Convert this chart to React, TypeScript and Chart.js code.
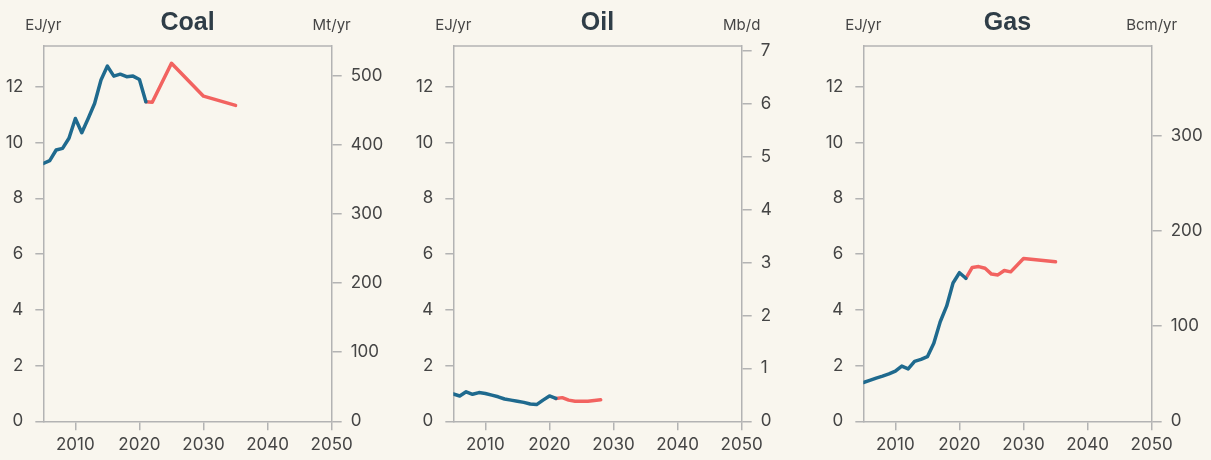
import React, { useEffect, useRef } from "react";
import { Chart, registerables } from "chart.js";

Chart.register(...registerables);

const BG = "#f9f6ee";
const BLUE = "#1f6a8e";
const RED = "#f26360";
const AXIS = "#b3b3b3";
const TEXT = "#454545";
const TITLE = "#2f3d47";
const FONT = "Inter";

const xTicks = [2010, 2020, 2030, 2040, 2050];
const ejTicks = [0, 2, 4, 6, 8, 10, 12];
const EJ_MAX = 13.46;

// Coal
const coalHistYears = [2005, 2006, 2007, 2008, 2009, 2010, 2011, 2012, 2013, 2014, 2015, 2016, 2017, 2018, 2019, 2020, 2021];
const coalHistEJ = [9.25, 9.35, 9.73, 9.79, 10.15, 10.86, 10.35, 10.86, 11.4, 12.24, 12.74, 12.38, 12.45, 12.36, 12.38, 12.26, 11.46];
const coalProjYears = [2021, 2022, 2025, 2030, 2035];
const coalProjEJ = [11.46, 11.44, 12.84, 11.66, 11.33];
const coalRightTicks = [0, 100, 200, 300, 400, 500];
const coalRightMax = 542.9; // Mt/yr at top of the plot

// Oil
const oilHistYears = [2005, 2006, 2007, 2008, 2009, 2010, 2011, 2012, 2013, 2014, 2015, 2016, 2017, 2018, 2019, 2020, 2021];
const oilHistEJ = [0.98, 0.91, 1.06, 0.97, 1.03, 1.0, 0.94, 0.88, 0.8, 0.76, 0.72, 0.68, 0.62, 0.6, 0.76, 0.91, 0.82];
const oilProjYears = [2021, 2022, 2023, 2024, 2025, 2026, 2027, 2028];
const oilProjEJ = [0.82, 0.85, 0.76, 0.72, 0.72, 0.72, 0.75, 0.77];
const oilRightTicks = [0, 1, 2, 3, 4, 5, 6, 7];
const oilRightMax = 7.088; // Mb/d

// Gas
const gasHistYears = [2005, 2006, 2007, 2008, 2009, 2010, 2011, 2012, 2013, 2014, 2015, 2016, 2017, 2018, 2019, 2020, 2021];
const gasHistEJ = [1.39, 1.47, 1.55, 1.62, 1.7, 1.8, 1.98, 1.88, 2.15, 2.22, 2.32, 2.8, 3.57, 4.13, 4.96, 5.33, 5.13];
const gasProjYears = [2021, 2022, 2023, 2024, 2025, 2026, 2027, 2028, 2030, 2035];
const gasProjEJ = [5.13, 5.52, 5.55, 5.49, 5.28, 5.25, 5.41, 5.36, 5.84, 5.72];
const gasRightTicks = [0, 100, 200, 300];
const gasRightMax = 394.6; // Bcm/yr

type PanelProps = {
  title: string;
  unitRight: string;
  histYears: number[];
  histVals: number[];
  projYears: number[];
  projVals: number[];
  rightTicks: number[];
  rightMax: number;
  left: number;
  width: number;
  leftW: number;
  rightW: number;
};

function Panel(p: PanelProps) {
  const ref = useRef<HTMLCanvasElement | null>(null);
  useEffect(() => {
    if (!ref.current) return;
    const frame = {
      id: "frame",
      afterDraw(chart: any) {
        const { ctx, chartArea } = chart;
        const { left, right, top } = chartArea;
        ctx.save();
        ctx.strokeStyle = AXIS;
        ctx.lineWidth = 1.5;
        ctx.beginPath();
        ctx.moveTo(left, top);
        ctx.lineTo(right, top);
        ctx.stroke();
        ctx.fillStyle = TITLE;
        ctx.font = "bold 25px 'Liberation Sans'";
        ctx.textAlign = "center";
        ctx.textBaseline = "alphabetic";
        ctx.fillText(p.title, (left + right) / 2, 30);
        ctx.fillStyle = TEXT;
        ctx.font = `15px ${FONT}`;
        ctx.fillText("EJ/yr", left, 30);
        ctx.fillText(p.unitRight, right, 30);
        ctx.restore();
      },
    };
    const tickFont = { size: 17, family: FONT };
    const chart = new Chart(ref.current, {
      type: "line",
      data: {
        datasets: [
          {
            data: p.histYears.map((x, i) => ({ x, y: p.histVals[i] })),
            borderColor: BLUE,
            borderWidth: 3.5,
            pointRadius: 0,
            borderJoinStyle: "round",
            borderCapStyle: "round",
            yAxisID: "y",
          },
          {
            data: p.projYears.map((x, i) => ({ x, y: p.projVals[i] })),
            borderColor: RED,
            borderWidth: 3.5,
            pointRadius: 0,
            borderJoinStyle: "round",
            borderCapStyle: "round",
            yAxisID: "y",
          },
        ],
      },
      options: {
        responsive: false,
        animation: false,
        events: [],
        layout: { padding: { top: 46, left: 0, right: 0, bottom: 0 } },
        plugins: {
          legend: { display: false },
          tooltip: { enabled: false },
          title: { display: false },
        },
        scales: {
          x: {
            type: "linear",
            position: "bottom",
            min: 2005,
            max: 2050,
            afterBuildTicks: (s: any) => {
              s.ticks = xTicks.map((v) => ({ value: v }));
            },
            afterFit: (s: any) => {
              s.height = 460 - 421.33;
            },
            grid: { drawOnChartArea: false, drawTicks: true, tickLength: 9, color: AXIS, lineWidth: 1.5 },
            border: { color: AXIS, width: 1.5 },
            ticks: {
              color: TEXT,
              font: tickFont,
              padding: 4,
              maxRotation: 0,
              autoSkip: false,
              callback: (v: any) => String(v),
            },
          },
          y: {
            type: "linear",
            position: "left",
            min: 0,
            max: EJ_MAX,
            afterBuildTicks: (s: any) => {
              s.ticks = ejTicks.map((v) => ({ value: v }));
            },
            afterFit: (s: any) => {
              s.width = p.leftW;
            },
            grid: { drawOnChartArea: false, drawTicks: true, tickLength: 8, color: AXIS, lineWidth: 1.5 },
            border: { color: AXIS, width: 1.5 },
            ticks: { color: TEXT, font: tickFont, padding: 12, callback: (v: any) => String(v) },
          },
          y2: {
            type: "linear",
            position: "right",
            min: 0,
            max: p.rightMax,
            afterBuildTicks: (s: any) => {
              s.ticks = p.rightTicks.map((v) => ({ value: v }));
            },
            afterFit: (s: any) => {
              s.width = p.rightW;
            },
            grid: { drawOnChartArea: false, drawTicks: true, tickLength: 10, color: AXIS, lineWidth: 1.5 },
            border: { color: AXIS, width: 1.5 },
            ticks: { color: TEXT, font: tickFont, padding: 9, callback: (v: any) => String(v) },
          },
        },
      } as any,
      plugins: [frame],
    });
    return () => chart.destroy();
  }, []);
  return (
    <canvas
      ref={ref}
      width={p.width}
      height={460}
      style={{ position: "absolute", left: p.left, top: 0, width: p.width, height: 460 }}
    />
  );
}

export default function App() {
  return (
    <div
      style={{
        position: "fixed",
        left: 0,
        top: 0,
        width: 1211,
        height: 460,
        background: BG,
        overflow: "hidden",
      }}
    >
      <Panel
        title="Coal"
        unitRight="Mt/yr"
        histYears={coalHistYears}
        histVals={coalHistEJ}
        projYears={coalProjYears}
        projVals={coalProjEJ}
        rightTicks={coalRightTicks}
        rightMax={coalRightMax}
        left={0}
        width={403}
        leftW={43.33}
        rightW={71.33}
      />
      <Panel
        title="Oil"
        unitRight="Mb/d"
        histYears={oilHistYears}
        histVals={oilHistEJ}
        projYears={oilProjYears}
        projVals={oilProjEJ}
        rightTicks={oilRightTicks}
        rightMax={oilRightMax}
        left={403}
        width={403}
        leftW={50.33}
        rightW={64.33}
      />
      <Panel
        title="Gas"
        unitRight="Bcm/yr"
        histYears={gasHistYears}
        histVals={gasHistEJ}
        projYears={gasProjYears}
        projVals={gasProjEJ}
        rightTicks={gasRightTicks}
        rightMax={gasRightMax}
        left={806}
        width={405}
        leftW={57.33}
        rightW={59.33}
      />
    </div>
  );
}
